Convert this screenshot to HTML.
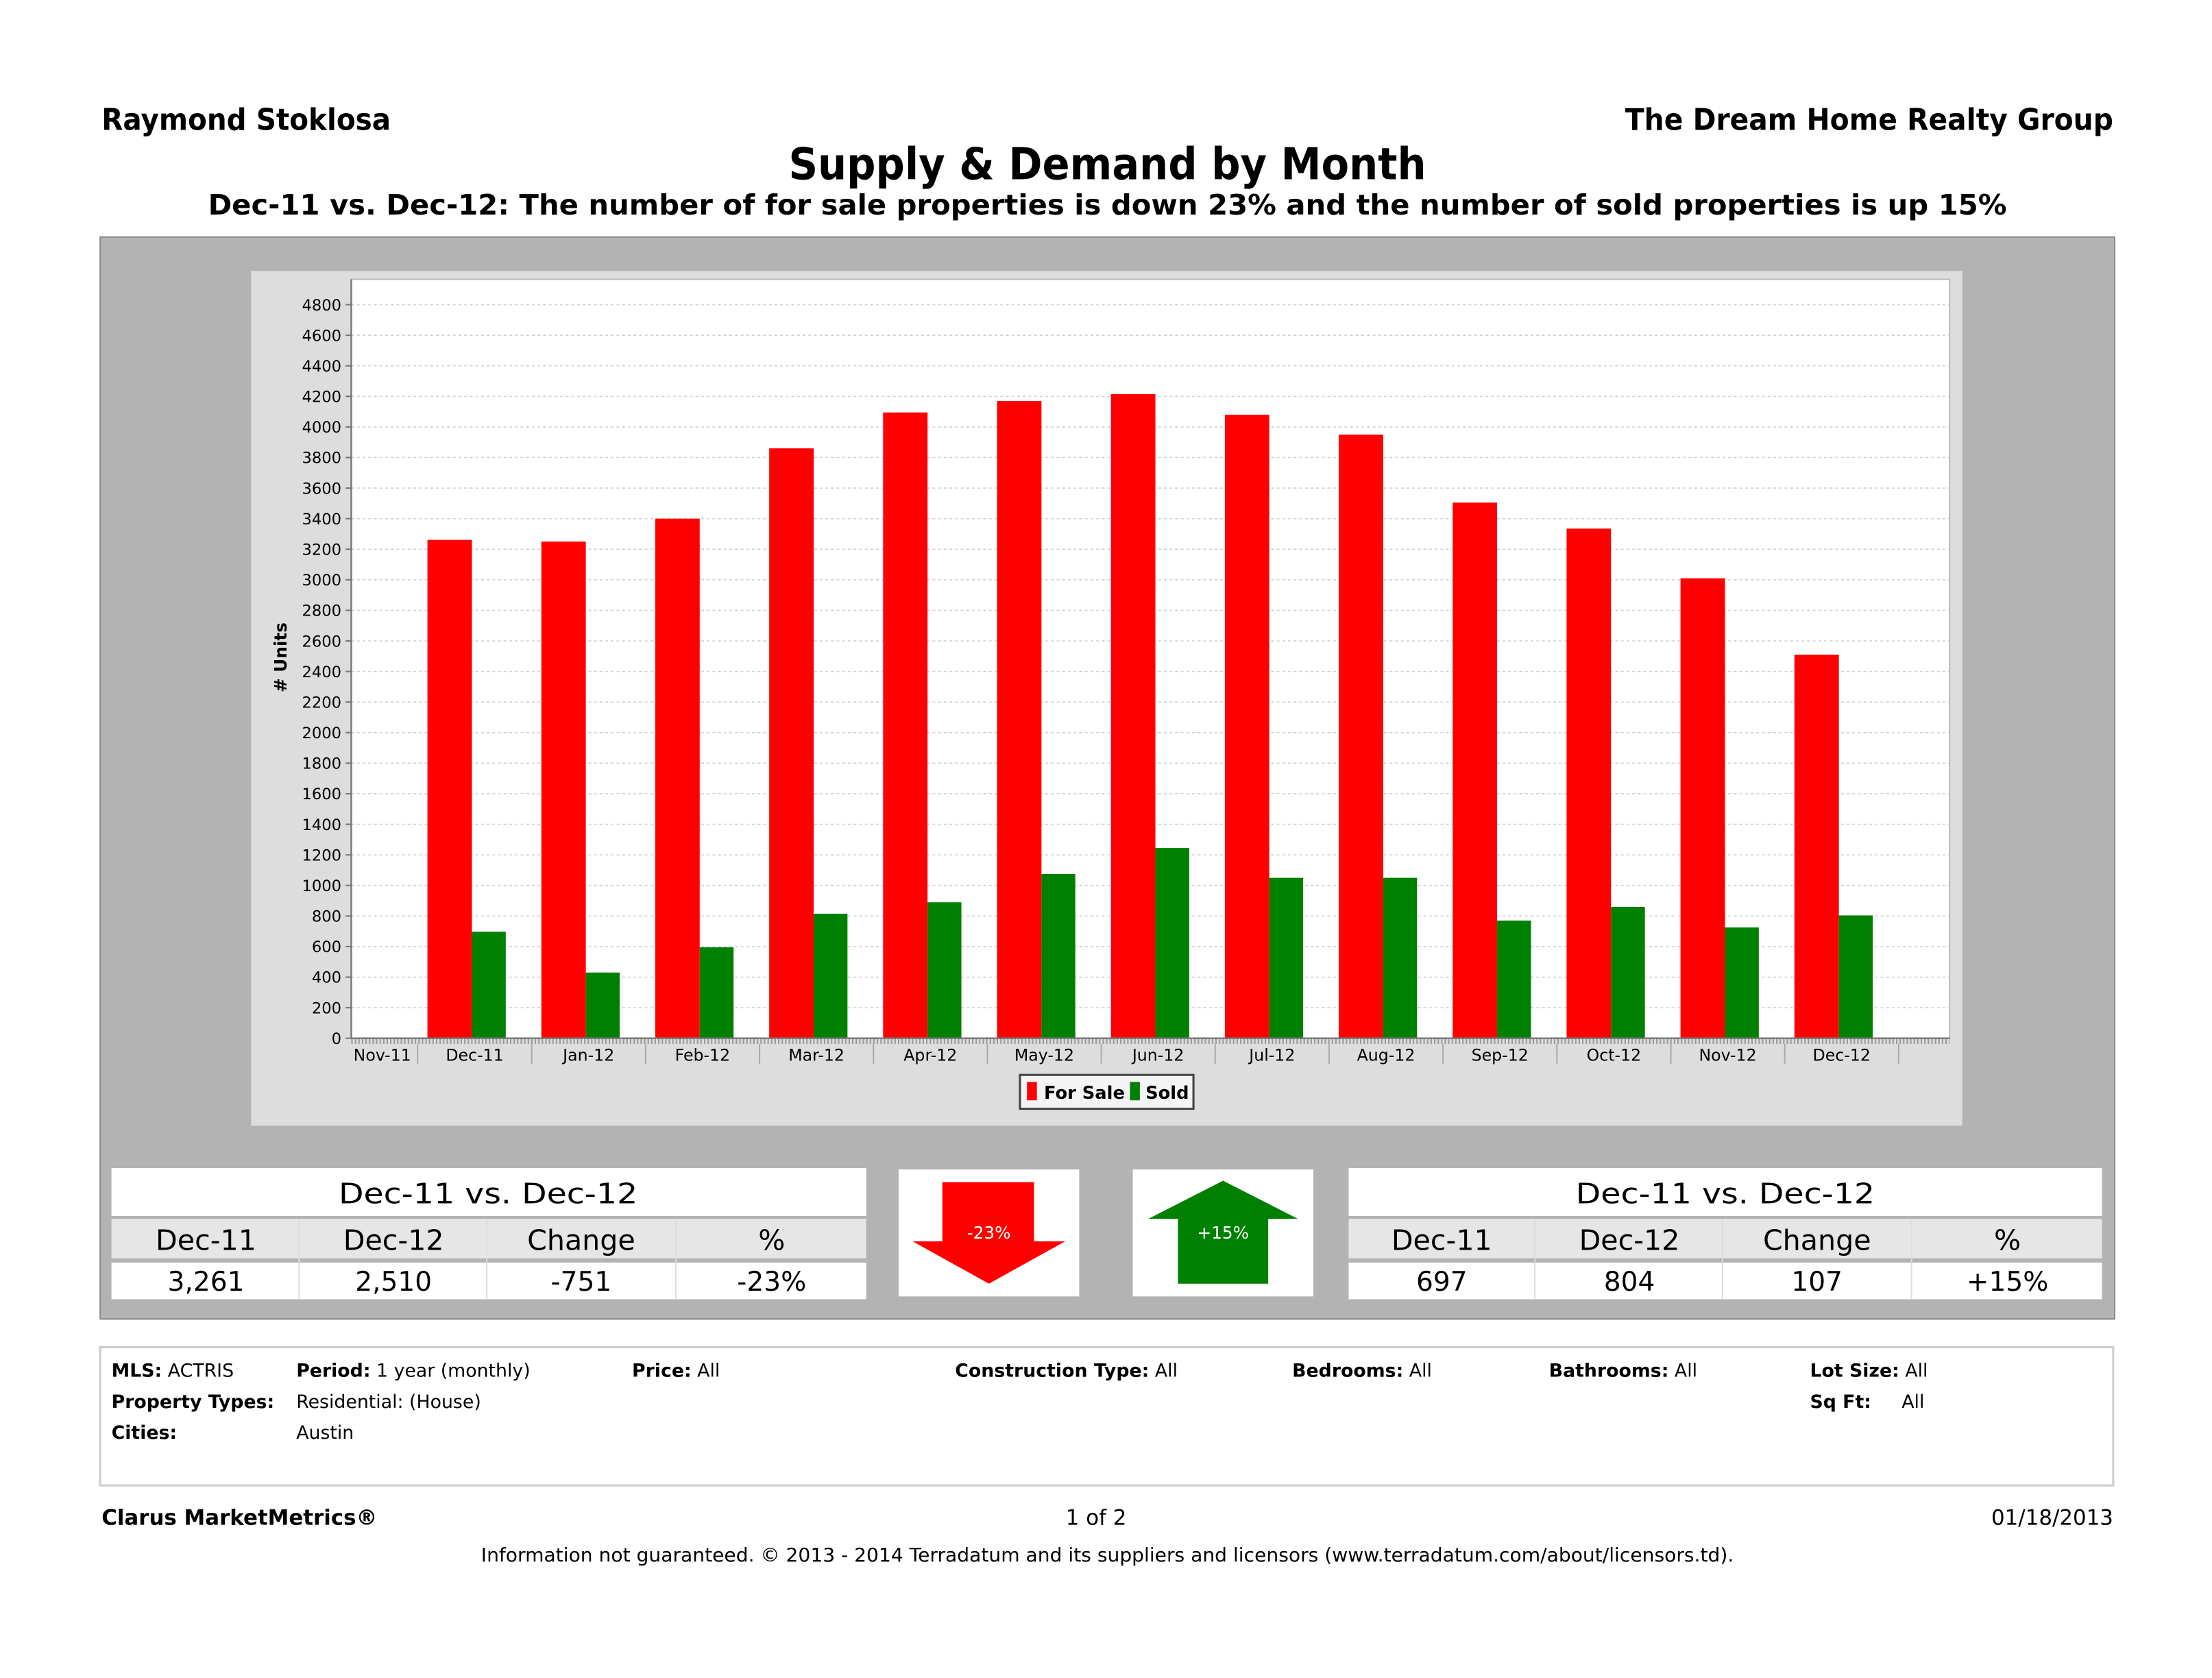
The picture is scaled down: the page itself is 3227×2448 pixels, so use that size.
<!DOCTYPE html>
<html><head><meta charset="utf-8">
<style>
html,body{margin:0;padding:0;background:#fff;}
svg{display:block;}
text{font-family:"DejaVu Sans","Liberation Sans",sans-serif;}
</style></head>
<body>
<svg id="page" width="3227" height="2448" viewBox="0 0 1568 1189.5" xmlns="http://www.w3.org/2000/svg">
<text x="72" y="92" font-size="21" font-weight="bold" textLength="205" lengthAdjust="spacingAndGlyphs">Raymond Stoklosa</text>
<text x="1498" y="92" font-size="21" font-weight="bold" text-anchor="end" textLength="346" lengthAdjust="spacingAndGlyphs">The Dream Home Realty Group</text>
<text x="785" y="127" font-size="31" font-weight="bold" text-anchor="middle" textLength="452" lengthAdjust="spacingAndGlyphs">Supply &amp; Demand by Month</text>
<text x="785" y="152" font-size="20" font-weight="bold" text-anchor="middle" textLength="1275" lengthAdjust="spacingAndGlyphs">Dec-11 vs. Dec-12:  The number of for sale properties is down 23% and the number of sold properties is up 15%</text>

<rect x="71" y="168" width="1428" height="767" fill="#b3b3b3" stroke="#8a8a8a" stroke-width="1"/>
<rect x="178" y="192" width="1213" height="606" fill="#dddddd"/>
<rect x="249" y="198" width="1133" height="538" fill="#fff" stroke="#bbb" stroke-width="1"/>
<g id="chart"></g>
<text transform="translate(203,466) rotate(-90)" font-size="12" font-weight="bold" text-anchor="middle"># Units</text>

<rect x="723" y="762" width="123" height="24" fill="#f4f4f4" stroke="#444" stroke-width="1.5"/>
<rect x="728" y="767" width="7" height="13" fill="#ff0000"/>
<text x="740" y="779" font-size="12.5" font-weight="bold">For Sale</text>
<rect x="801" y="767" width="7" height="13" fill="#008000"/>
<text x="812" y="779" font-size="12.5" font-weight="bold">Sold</text>

<!-- left table -->
<g>
<rect x="79" y="828" width="535" height="34" fill="#fff"/>
<text x="346" y="853" font-size="20" text-anchor="middle" textLength="212" lengthAdjust="spacingAndGlyphs">Dec-11 vs. Dec-12</text>
<rect x="79" y="864" width="535" height="28" fill="#e6e6e6"/>
<rect x="79" y="895" width="535" height="26" fill="#fff"/>
<g stroke="#ddd" stroke-width="1"><line x1="212" y1="864" x2="212" y2="921"/><line x1="345" y1="864" x2="345" y2="921"/><line x1="479" y1="864" x2="479" y2="921"/></g>
<g font-size="20" text-anchor="middle"><text x="146" y="886">Dec-11</text><text x="279" y="886">Dec-12</text><text x="412" y="886">Change</text><text x="547" y="886">%</text></g>
<g font-size="19" text-anchor="middle"><text x="146" y="915">3,261</text><text x="279" y="915">2,510</text><text x="412" y="915">-751</text><text x="547" y="915">-23%</text></g>
</g>
<!-- arrows -->
<rect x="637" y="829" width="128" height="90" fill="#fff"/>
<polygon points="668,838 733,838 733,880 755,880 701,910 647,880 668,880" fill="#ff0000"/>
<text x="701" y="878" font-size="12" fill="#fff" text-anchor="middle">-23%</text>
<rect x="803" y="829" width="128" height="90" fill="#fff"/>
<polygon points="867,837 920,864 899,864 899,910 835,910 835,864 814,864" fill="#008000"/>
<text x="867" y="878" font-size="12" fill="#fff" text-anchor="middle">+15%</text>
<!-- right table -->
<g>
<rect x="956" y="828" width="534" height="34" fill="#fff"/>
<text x="1223" y="853" font-size="20" text-anchor="middle" textLength="212" lengthAdjust="spacingAndGlyphs">Dec-11 vs. Dec-12</text>
<rect x="956" y="864" width="534" height="28" fill="#e6e6e6"/>
<rect x="956" y="895" width="534" height="26" fill="#fff"/>
<g stroke="#ddd" stroke-width="1"><line x1="1088" y1="864" x2="1088" y2="921"/><line x1="1221" y1="864" x2="1221" y2="921"/><line x1="1355" y1="864" x2="1355" y2="921"/></g>
<g font-size="20" text-anchor="middle"><text x="1022" y="886">Dec-11</text><text x="1155" y="886">Dec-12</text><text x="1288" y="886">Change</text><text x="1423" y="886">%</text></g>
<g font-size="19" text-anchor="middle"><text x="1022" y="915">697</text><text x="1155" y="915">804</text><text x="1288" y="915">107</text><text x="1423" y="915">+15%</text></g>
</g>

<rect x="71" y="955" width="1427" height="98" fill="#fff" stroke="#ccc" stroke-width="1.5"/>
<g font-size="13">
<text x="79" y="976"><tspan font-weight="bold">MLS:</tspan> ACTRIS</text>
<text x="210" y="976"><tspan font-weight="bold">Period:</tspan>  1 year (monthly)</text>
<text x="448" y="976"><tspan font-weight="bold">Price:</tspan>  All</text>
<text x="677" y="976"><tspan font-weight="bold">Construction Type:</tspan> All</text>
<text x="916" y="976"><tspan font-weight="bold">Bedrooms:</tspan> All</text>
<text x="1098" y="976"><tspan font-weight="bold">Bathrooms:</tspan> All</text>
<text x="1283" y="976"><tspan font-weight="bold">Lot Size:</tspan> All</text>
<text x="79" y="998" font-weight="bold">Property Types:</text>
<text x="210" y="998">Residential: (House)</text>
<text x="1283" y="998" font-weight="bold">Sq Ft:</text>
<text x="1348" y="998">All</text>
<text x="79" y="1020" font-weight="bold">Cities:</text>
<text x="210" y="1020">Austin</text>
</g>
<text x="72" y="1081" font-size="15" font-weight="bold">Clarus MarketMetrics®</text>
<text x="777" y="1081" font-size="15" text-anchor="middle">1 of 2</text>
<text x="1498" y="1081" font-size="15" text-anchor="end">01/18/2013</text>
<text x="785" y="1107" font-size="13.5" text-anchor="middle" textLength="888" lengthAdjust="spacingAndGlyphs">Information not guaranteed.  © 2013 - 2014 Terradatum and its suppliers and licensors (www.terradatum.com/about/licensors.td).</text>
</svg>
<script>
const categories = ["Dec-11","Jan-12","Feb-12","Mar-12","Apr-12","May-12","Jun-12","Jul-12","Aug-12","Sep-12","Oct-12","Nov-12","Dec-12"];
const forSale = [3261,3250,3400,3860,4095,4170,4215,4080,3950,3505,3335,3010,2510];
const sold = [697,430,595,815,890,1075,1245,1050,1050,770,860,725,804];
const yTicks = [0,200,400,600,800,1000,1200,1400,1600,1800,2000,2200,2400,2600,2800,3000,3200,3400,3600,3800,4000,4200,4400,4600,4800];

const NS = "http://www.w3.org/2000/svg";
const g = document.getElementById('chart');
const plotL = 249, plotR = 1382, y0 = 736, yTop = 216, yMax = 4800;
const yScale = v => y0 - (v / yMax) * (y0 - yTop);
const xCenter = i => 336.5 + 80.75 * i;
function mk(tag, attrs){ const e = document.createElementNS(NS, tag); for (const k in attrs) e.setAttribute(k, attrs[k]); g.appendChild(e); return e; }

yTicks.forEach(v => {
  const y = yScale(v);
  if (v > 0) {
    const gl = mk('line', {x1: plotL, x2: plotR, y1: y, y2: y, stroke: '#d0d0d0', 'stroke-width': 0.8, 'stroke-dasharray': '2,2'});
    
    
  }
  const tk = mk('line', {x1: 245, x2: 249, y1: y, y2: y, stroke: '#777', 'stroke-width': 1});
  
  
  const t = mk('text', {x: 242, y: y + 4, 'font-size': 11, 'text-anchor': 'end'});
  t.textContent = v;
  
  
});

categories.forEach((c, i) => {
  const cx = xCenter(i);
  const rb = mk('rect', {x: cx - 33.5, y: yScale(forSale[i]), width: 31.5, height: y0 - yScale(forSale[i]), fill: '#ff0000'});
  
  
  const gb = mk('rect', {x: cx - 2, y: yScale(sold[i]), width: 24, height: y0 - yScale(sold[i]), fill: '#008000'});
  
  
  const lbl = mk('text', {x: cx, y: 752, 'font-size': 11.5, 'text-anchor': 'middle'});
  lbl.textContent = c;
  
  
  const sep = mk('line', {x1: cx + 40.4, x2: cx + 40.4, y1: 740, y2: 754, stroke: '#aaa', 'stroke-width': 1});
  
  
});
const nov = mk('text', {x: 271, y: 752, 'font-size': 11.5, 'text-anchor': 'middle'});
nov.textContent = 'Nov-11';


const sep0 = mk('line', {x1: 296, x2: 296, y1: 740, y2: 754, stroke: '#aaa', 'stroke-width': 1});



const minor = mk('line', {x1: plotL, x2: plotR, y1: 738, y2: 738, stroke: '#999', 'stroke-width': 4, 'stroke-dasharray': '1,1.5'});


const xAxis = mk('line', {x1: plotL, x2: plotR, y1: y0, y2: y0, stroke: '#777', 'stroke-width': 1.2});


const yAxis = mk('line', {x1: plotL, x2: plotL, y1: 198, y2: y0, stroke: '#777', 'stroke-width': 1.2});


</script>
</body></html>
